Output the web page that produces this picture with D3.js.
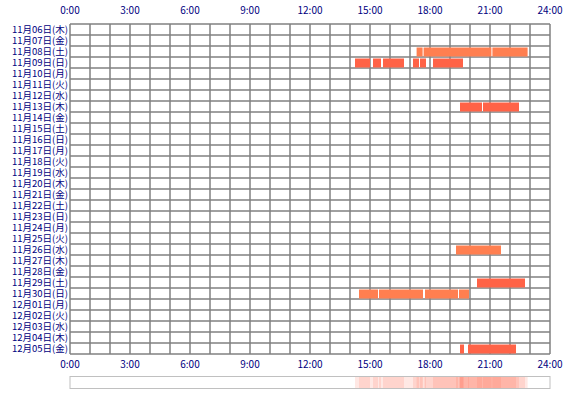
<!DOCTYPE html>
<html><head><meta charset="utf-8">
<script src="https://cdn.jsdelivr.net/npm/d3@7"></script>
<style>body{margin:0;background:#fff}text{font-family:"Noto Sans CJK JP",sans-serif;font-size:10px;fill:#000080}.day{font-size:9.5px}</style>
</head><body><svg id="c" width="570" height="400"></svg>
<script>
const WEEK = ["日", "月", "火", "水", "木", "金", "土"];
const START = new Date(2014, 10, 6);
const DAYS = 30;
const HOUR_TICKS = [0, 3, 6, 9, 12, 15, 18, 21, 24];
// [dayIndex, startHour, endHour, colour]
const SESSIONS = [
  [2, 17.33, 17.63, "#ff7f50"], [2, 17.68, 21.07, "#ff7f50"], [2, 21.12, 22.88, "#ff7f50"],
  [3, 14.25, 15.0, "#ff6347"], [3, 15.15, 15.55, "#ff6347"], [3, 15.65, 16.7, "#ff6347"],
  [3, 17.15, 17.45, "#ff6347"], [3, 17.5, 17.8, "#ff6347"], [3, 18.15, 19.65, "#ff6347"],
  [7, 19.5, 20.6, "#ff6347"], [7, 20.65, 22.45, "#ff6347"],
  [20, 19.3, 21.55, "#ff7f50"],
  [23, 20.35, 22.75, "#ff6347"],
  [24, 14.45, 15.4, "#ff7f50"], [24, 15.45, 17.65, "#ff7f50"], [24, 17.75, 19.4, "#ff7f50"], [24, 19.45, 19.95, "#ff7f50"],
  [29, 19.5, 19.7, "#ff6347"], [29, 19.9, 22.3, "#ff6347"]
];
const LEFT = 70, RIGHT = 550, TOP = 24, ROW = 11;

const days = d3.range(DAYS).map(i => new Date(START.getFullYear(), START.getMonth(), START.getDate() + i));
const pad = n => String(n).padStart(2, "0");
const dayLabel = d => (d.getMonth() + 1) + "月" + pad(d.getDate()) + "日(" + WEEK[d.getDay()] + ")";

const x = d3.scaleLinear().domain([0, 24]).range([LEFT, RIGHT]);
const y = d3.scaleBand().domain(d3.range(DAYS)).range([TOP, TOP + DAYS * ROW]);
const svg = d3.select("#c");

// grid
svg.append("g").selectAll("line").data(d3.range(25)).join("line")
  .attr("x1", d => x(d)).attr("x2", d => x(d)).attr("y1", TOP).attr("y2", TOP + DAYS * ROW)
  .attr("stroke", "#808080").attr("stroke-width", 1.5);
svg.append("g").selectAll("line").data(d3.range(DAYS + 1)).join("line")
  .attr("x1", LEFT).attr("x2", RIGHT).attr("y1", d => TOP + d * ROW).attr("y2", d => TOP + d * ROW)
  .attr("stroke", "#808080").attr("stroke-width", 1.5);

// sessions
svg.append("g").selectAll("rect").data(SESSIONS).join("rect")
  .attr("x", d => x(d[1])).attr("width", d => x(d[2]) - x(d[1]))
  .attr("y", d => y(d[0]) + 1.5).attr("height", y.bandwidth() - 2)
  .attr("fill", d => d[3]);

// day labels
svg.append("g").selectAll("text").data(days).join("text")
  .attr("class", "day")
  .attr("x", LEFT - 2).attr("y", (d, i) => y(i) + ROW - 2).attr("text-anchor", "end")
  .text(dayLabel);

// hour labels top and bottom
[14, 368].forEach(yy => {
  svg.append("g").selectAll("text").data(HOUR_TICKS).join("text")
    .attr("x", d => x(d)).attr("y", yy).attr("text-anchor", "middle")
    .text(d => d + ":00");
});

// summary strip
const strip = svg.append("g");
strip.selectAll("rect").data(SESSIONS).join("rect")
  .attr("x", d => x(d[1])).attr("width", d => x(d[2]) - x(d[1]))
  .attr("y", 377).attr("height", 11).attr("fill", "#ff6347").attr("opacity", 0.15);
strip.append("rect").attr("x", LEFT).attr("y", 376.5).attr("width", RIGHT - LEFT).attr("height", 12)
  .attr("fill", "none").attr("stroke", "#c0c0c0");
</script></body></html>
